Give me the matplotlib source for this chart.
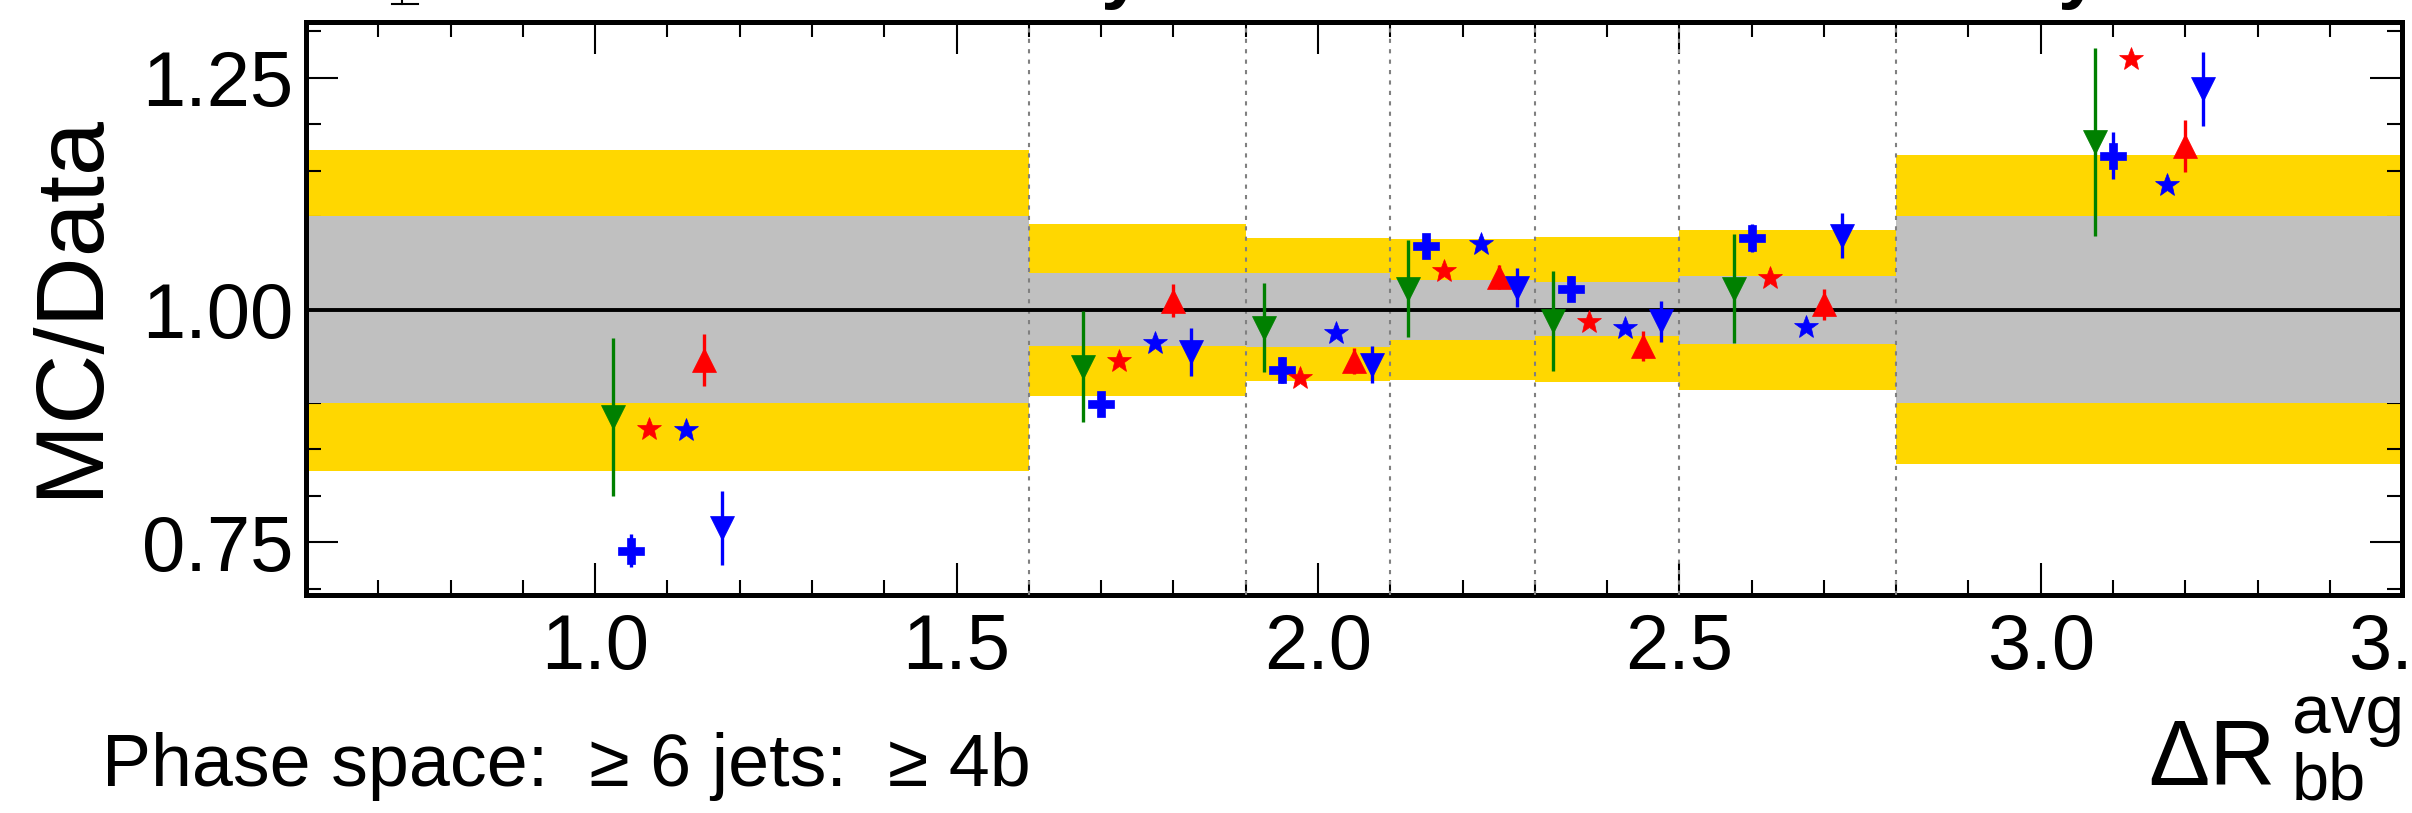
import matplotlib.pyplot as plt
from matplotlib.lines import Line2D
from matplotlib.ticker import MultipleLocator, FormatStrFormatter
import numpy as np

plt.rcParams['font.family'] = ['Liberation Sans', 'DejaVu Sans']

# dR_bb^avg binning
bin_edges = [0.6, 1.6, 1.9, 2.1, 2.3, 2.5, 2.8, 3.5]

# uncertainty bands around 1 (grey = inner, yellow = outer)
inner_lo = [0.900, 0.961, 0.960, 0.968, 0.972, 0.963, 0.900]
inner_hi = [1.101, 1.040, 1.040, 1.032, 1.030, 1.037, 1.101]
outer_lo = [0.827, 0.907, 0.924, 0.925, 0.922, 0.914, 0.834]
outer_hi = [1.172, 1.093, 1.077, 1.076, 1.079, 1.086, 1.167]

# MC/Data per prediction, one value per bin
green_down = [0.885, 0.939, 0.981, 1.023, 0.988, 1.023, 1.181]
green_down_err = [0.085, 0.060, 0.048, 0.052, 0.054, 0.059, 0.101]
blue_cross = [0.741, 0.899, 0.935, 1.069, 1.023, 1.077, 1.166]
blue_cross_err = [0.018, 0.009, 0.014, 0.013, 0.013, 0.015, 0.025]
red_star = [0.872, 0.945, 0.927, 1.042, 0.987, 1.034, 1.270]
blue_star = [0.871, 0.964, 0.975, 1.071, 0.981, 0.982, 1.135]
red_up = [0.946, 1.010, 0.945, 1.035, 0.961, 1.006, 1.176]
red_up_err = [0.028, 0.018, 0.014, 0.013, 0.016, 0.017, 0.028]
blue_down = [0.765, 0.955, 0.941, 1.024, 0.988, 1.080, 1.238]
blue_down_err = [0.040, 0.026, 0.020, 0.021, 0.022, 0.024, 0.040]

edges = np.array(bin_edges)
centers = 0.5 * (edges[:-1] + edges[1:])
widths = np.diff(edges)

fig = plt.figure(figsize=(24.12, 8.13), dpi=100)
ax = fig.add_axes([0.1269, 0.268, 0.869, 0.705])

# bands
ax.bar(edges[:-1], np.array(outer_hi) - np.array(outer_lo), bottom=outer_lo,
       width=widths, align='edge', color='#ffd700', lw=0, zorder=1)
ax.bar(edges[:-1], np.array(inner_hi) - np.array(inner_lo), bottom=inner_lo,
       width=widths, align='edge', color='#c0c0c0', lw=0, zorder=2)

for e in edges[1:-1]:
    ax.axvline(e, color='#808080', lw=1.5, ls=(0, (2, 3)), zorder=3)
ax.axhline(1.0, color='black', lw=2.8, zorder=3)

# each prediction is shifted a little inside its bin
series = [
    (green_down, green_down_err, 'v', '#008000', 17, -0.075),
    (blue_cross, blue_cross_err, 'P', '#0000ff', 19, -0.050),
    (red_star, None, '*', '#ff0000', 18, -0.025),
    (blue_star, None, '*', '#0000ff', 18, 0.025),
    (red_up, red_up_err, '^', '#ff0000', 17, 0.050),
    (blue_down, blue_down_err, 'v', '#0000ff', 17, 0.075),
]
for vals, errs, mk, col, ms, shift in series:
    ax.errorbar(centers + shift, vals, yerr=errs, fmt=mk, color=col, ms=ms,
                mec=col, mew=0.5, elinewidth=2.4, capsize=0, zorder=5)

ax.set_xlim(0.6, 3.5)
ax.set_ylim(0.693, 1.310)

ax.xaxis.set_major_locator(MultipleLocator(0.5))
ax.xaxis.set_minor_locator(MultipleLocator(0.1))
ax.yaxis.set_major_locator(MultipleLocator(0.25))
ax.yaxis.set_minor_locator(MultipleLocator(0.05))
ax.xaxis.set_major_formatter(FormatStrFormatter('%.1f'))
ax.yaxis.set_major_formatter(FormatStrFormatter('%.2f'))

ax.tick_params(which='both', direction='in', top=True, right=True, width=1.5,
               labelsize=56)
ax.tick_params(which='major', length=23)
ax.tick_params(which='minor', length=11)
ax.tick_params(axis='x', which='major', pad=12)
ax.tick_params(axis='y', which='major', pad=9)
for sp in ax.spines.values():
    sp.set_linewidth(3.6)

fig.text(0.0296, 0.625, 'MC/Data', rotation=90, fontsize=70,
         ha='center', va='center')
fig.text(0.0423, 0.0332, 'Phase space:  \u2265 6 jets:  \u2265 4b',
         fontsize=53, ha='left', va='baseline')

# x axis title built from pieces
fig.text(0.8905, 0.0344, '\u0394R', fontsize=66, ha='left', va='baseline')
fig.text(0.9502, 0.0984, 'avg', fontsize=50, ha='left', va='baseline')
fig.text(0.9502, 0.016, 'bb', fontsize=48, ha='left', va='baseline')

# bits of the upper pad peeking in at the top edge
fig.text(1122 / 2412, 1 + 6 / 813, 'y', fontsize=55, fontweight='bold',
         ha='center', va='baseline')
fig.text(2079 / 2412, 1 + 6 / 813, 'y', fontsize=55, fontweight='bold',
         ha='center', va='baseline')
fig.add_artist(Line2D([402 / 2412, 402 / 2412], [1.0, 1 - 4.5 / 813],
                      color='black', lw=1.5))
fig.add_artist(Line2D([392 / 2412, 418 / 2412], [1 - 4.5 / 813, 1 - 4.5 / 813],
                      color='black', lw=1.5))

fig.savefig('out.png', dpi=100)
